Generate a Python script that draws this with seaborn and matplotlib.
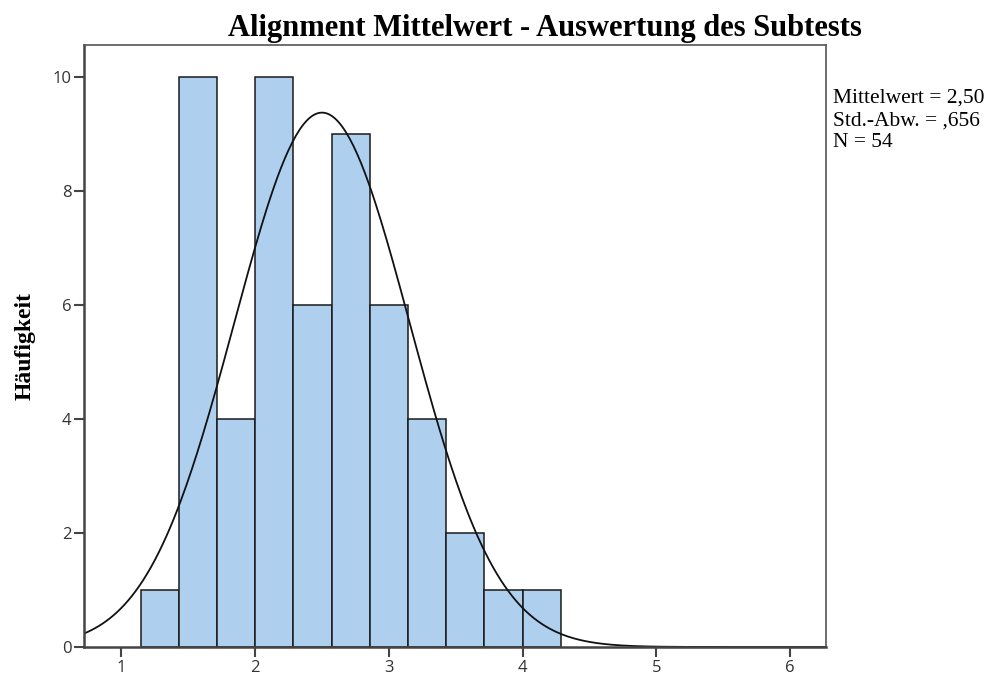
import numpy as np
import pandas as pd
import matplotlib
matplotlib.use("Agg")
import matplotlib.pyplot as plt
import seaborn as sns

# Daten
bin_edges = [k * 2 / 7 for k in range(4, 16)]
counts = [1, 10, 4, 10, 6, 9, 6, 4, 2, 1, 1]
mittelwert = 2.50
std_abw = 0.656
n = 54
x_ticks = [1, 2, 3, 4, 5, 6]
y_ticks = [0, 2, 4, 6, 8, 10]

centers = [(a + b) / 2 for a, b in zip(bin_edges[:-1], bin_edges[1:])]
df = pd.DataFrame({"wert": centers, "anzahl": counts})

sns.set_style("white")
plt.rcParams["font.family"] = ["Liberation Serif", "DejaVu Serif"]
plt.rcParams["text.color"] = "black"
plt.rcParams["axes.labelcolor"] = "black"

fig = plt.figure(figsize=(10.01, 6.81), dpi=100)
ax = fig.add_axes([84 / 1001, 1 - 647 / 681, (826 - 84) / 1001, (647 - 45) / 681])

sns.histplot(data=df, x="wert", weights="anzahl", bins=bin_edges, ax=ax,
             color="#aecfee", edgecolor="#1a1a1a", linewidth=1.1, alpha=1)

# Normalverteilungskurve
bw = bin_edges[1] - bin_edges[0]
xs = np.linspace(0.72, 6.27, 400)
ys = n * bw / (std_abw * np.sqrt(2 * np.pi)) * np.exp(-0.5 * ((xs - mittelwert) / std_abw) ** 2)
sns.lineplot(x=xs, y=ys, ax=ax, color="#111111", linewidth=1.3)

ax.set_xlim(0.72, 6.27)
ax.set_ylim(0, 10.57)
ax.set_xticks(x_ticks)
ax.set_yticks(y_ticks)
ax.set_xticklabels([str(t) for t in x_ticks], family="Open Sans", fontsize=12, color="#333333")
ax.set_yticklabels([str(t) for t in y_ticks], family="Open Sans", fontsize=12, color="#333333")
ax.tick_params(axis="both", direction="out", length=7, width=1.5, color="#444444",
               bottom=True, left=True, pad=2)
ax.set_xlabel("")
ax.set_ylabel("Häufigkeit", fontsize=17, fontweight="bold", labelpad=12)

for side in ["top", "right"]:
    ax.spines[side].set_color("#555555")
    ax.spines[side].set_linewidth(1.2)
for side in ["left", "bottom"]:
    ax.spines[side].set_color("#444444")
    ax.spines[side].set_linewidth(1.8)

fig.text(545 / 1001, 1 - 36 / 681, "Alignment Mittelwert - Auswertung des Subtests",
         ha="center", va="baseline", fontsize=22, fontweight="bold")
fig.text(833 / 1001, 1 - 89 / 681,
         "Mittelwert = 2,50\nStd.-Abw. = ,656\nN = 54",
         ha="left", va="top", fontsize=15.5, linespacing=1.22)

fig.savefig("out.png", dpi=100)
